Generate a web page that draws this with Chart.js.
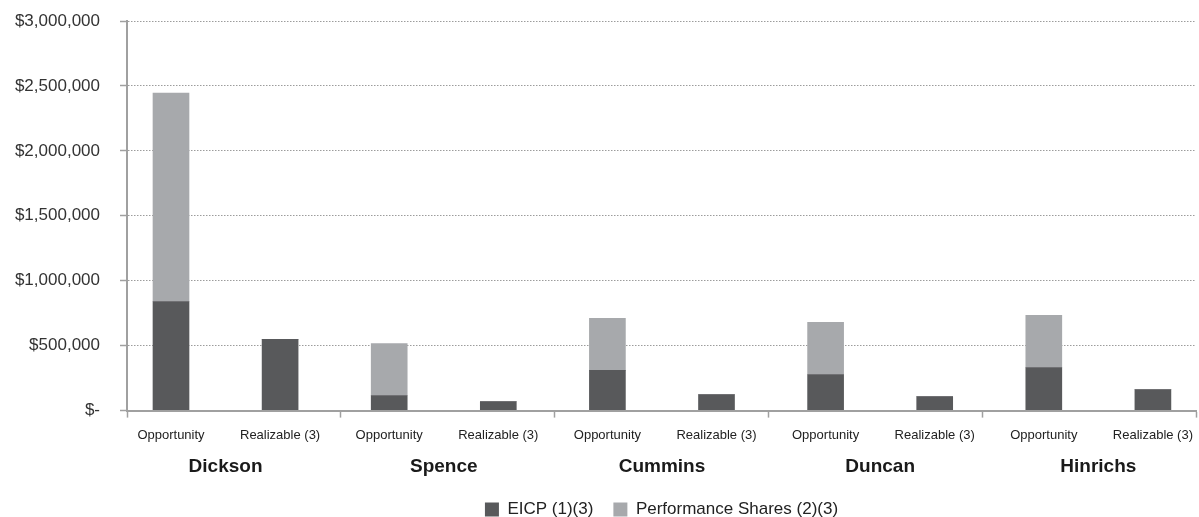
<!DOCTYPE html>
<html>
<head>
    <title>Opportunity vs Realizable Pay</title>
    <style>
        html, body {
            margin: 0;
            padding: 0;
            background: #fff;
            overflow: hidden;
        }
    </style>
</head>
<body>
    <canvas id="payChart" width="1199" height="517"></canvas>
    <script src="https://cdn.jsdelivr.net/npm/chart.js"></script>
    <script>
        // bars: two per executive
        const categories = [
            'Opportunity', 'Realizable (3)',
            'Opportunity', 'Realizable (3)',
            'Opportunity', 'Realizable (3)',
            'Opportunity', 'Realizable (3)',
            'Opportunity', 'Realizable (3)'
        ];
        const executives = ['Dickson', 'Spence', 'Cummins', 'Duncan', 'Hinrichs'];
        const eicp = [840000, 548000, 116000, 69000, 310000, 123000, 278000, 108000, 332000, 162000];
        const performanceShares = [1605000, 0, 401000, 0, 400000, 0, 401000, 0, 401000, 0];
        const yTickValues = [0, 500000, 1000000, 1500000, 2000000, 2500000, 3000000];

        const AXIS_GREY = '#a0a0a0';
        const FONT = "'Liberation Sans', Arial, Helvetica, sans-serif";
        Chart.defaults.font.family = FONT;

        function money(v) {
            return v === 0 ? '$-' : '$' + v.toLocaleString('en-US');
        }

        // labels may overhang the plot edges, like the original
        function noSidePadding(s) {
            s.paddingLeft = 0;
            s.paddingRight = 0;
        }

        // bars sit on a slightly wider pitch than the axis box, as in the original
        const X_MIN = -0.4033;
        const X_MAX = 9.395;

        const ctx = document.getElementById('payChart').getContext('2d');
        new Chart(ctx, {
            type: 'bar',
            data: {
                datasets: [{
                    label: 'EICP (1)(3)',
                    xAxisID: 'x',
                    yAxisID: 'y',
                    data: eicp.map((v, i) => ({ x: i, y: v })),
                    backgroundColor: '#58595b'
                }, {
                    label: 'Performance Shares (2)(3)',
                    xAxisID: 'x',
                    yAxisID: 'y',
                    data: performanceShares.map((v, i) => ({ x: i, y: v })),
                    backgroundColor: '#a7a9ac'
                }]
            },
            options: {
                responsive: false,
                animation: false,
                barThickness: 36,
                layout: {
                    padding: { top: 21, right: 3, left: 0, bottom: -11 }
                },
                plugins: {
                    tooltip: { enabled: false },
                    legend: {
                        position: 'bottom',
                        fullSize: false,
                        labels: {
                            boxWidth: 14,
                            boxHeight: 14,
                            padding: 20,
                            color: '#222',
                            font: { size: 17 }
                        }
                    }
                },
                scales: {
                    x: {
                        type: 'linear',
                        position: 'bottom',
                        weight: 1,
                        stacked: true,
                        offset: false,
                        bounds: 'data',
                        min: X_MIN,
                        max: X_MAX,
                        afterBuildTicks: s => { s.ticks = categories.map((c, i) => ({ value: i })); },
                        afterFit: noSidePadding,
                        ticks: {
                            autoSkip: false,
                            maxRotation: 0,
                            callback: v => categories[v],
                            color: '#222',
                            padding: 10,
                            font: { size: 13 }
                        },
                        grid: { display: false, drawTicks: false },
                        border: { display: false }
                    },
                    y: {
                        stacked: true,
                        min: 0,
                        max: 3000000,
                        afterBuildTicks: s => { s.ticks = yTickValues.map(v => ({ value: v })); },
                        afterFit: s => {
                            s.width = 127;
                            s.paddingTop = 0;
                            s.paddingBottom = 0;
                        },
                        ticks: {
                            callback: v => money(v),
                            color: '#333',
                            padding: 20,
                            font: { size: 17 }
                        },
                        grid: {
                            color: '#9c9c9c',
                            lineWidth: 1,
                            tickLength: 7,
                            tickColor: AXIS_GREY,
                            tickWidth: 1.5,
                            tickBorderDash: []
                        },
                        border: { display: true, color: AXIS_GREY, width: 2, dash: [1.5, 1.5], z: 1 }
                    },
                    // group separators under the axis
                    xg: {
                        type: 'category',
                        labels: executives,
                        position: 'bottom',
                        weight: 0,
                        offset: true,
                        afterFit: noSidePadding,
                        ticks: { display: false },
                        grid: {
                            offset: true,
                            drawOnChartArea: false,
                            drawTicks: true,
                            tickLength: 7,
                            tickColor: AXIS_GREY,
                            tickWidth: 1.5,
                            color: AXIS_GREY
                        },
                        border: { display: true, color: AXIS_GREY, width: 2, z: 1 }
                    },
                    x2: {
                        type: 'linear',
                        position: 'bottom',
                        weight: 2,
                        offset: false,
                        bounds: 'data',
                        min: X_MIN,
                        max: X_MAX,
                        afterBuildTicks: s => { s.ticks = executives.map((e, k) => ({ value: k * 2 + 0.5 })); },
                        afterFit: noSidePadding,
                        ticks: {
                            autoSkip: false,
                            maxRotation: 0,
                            callback: v => executives[(v - 0.5) / 2],
                            color: '#1a1a1a',
                            padding: 2.5,
                            font: { size: 19, weight: 'bold' }
                        },
                        grid: { display: false, drawTicks: false },
                        border: { display: false }
                    }
                }
            }
        });
    </script>
</body>
</html>
